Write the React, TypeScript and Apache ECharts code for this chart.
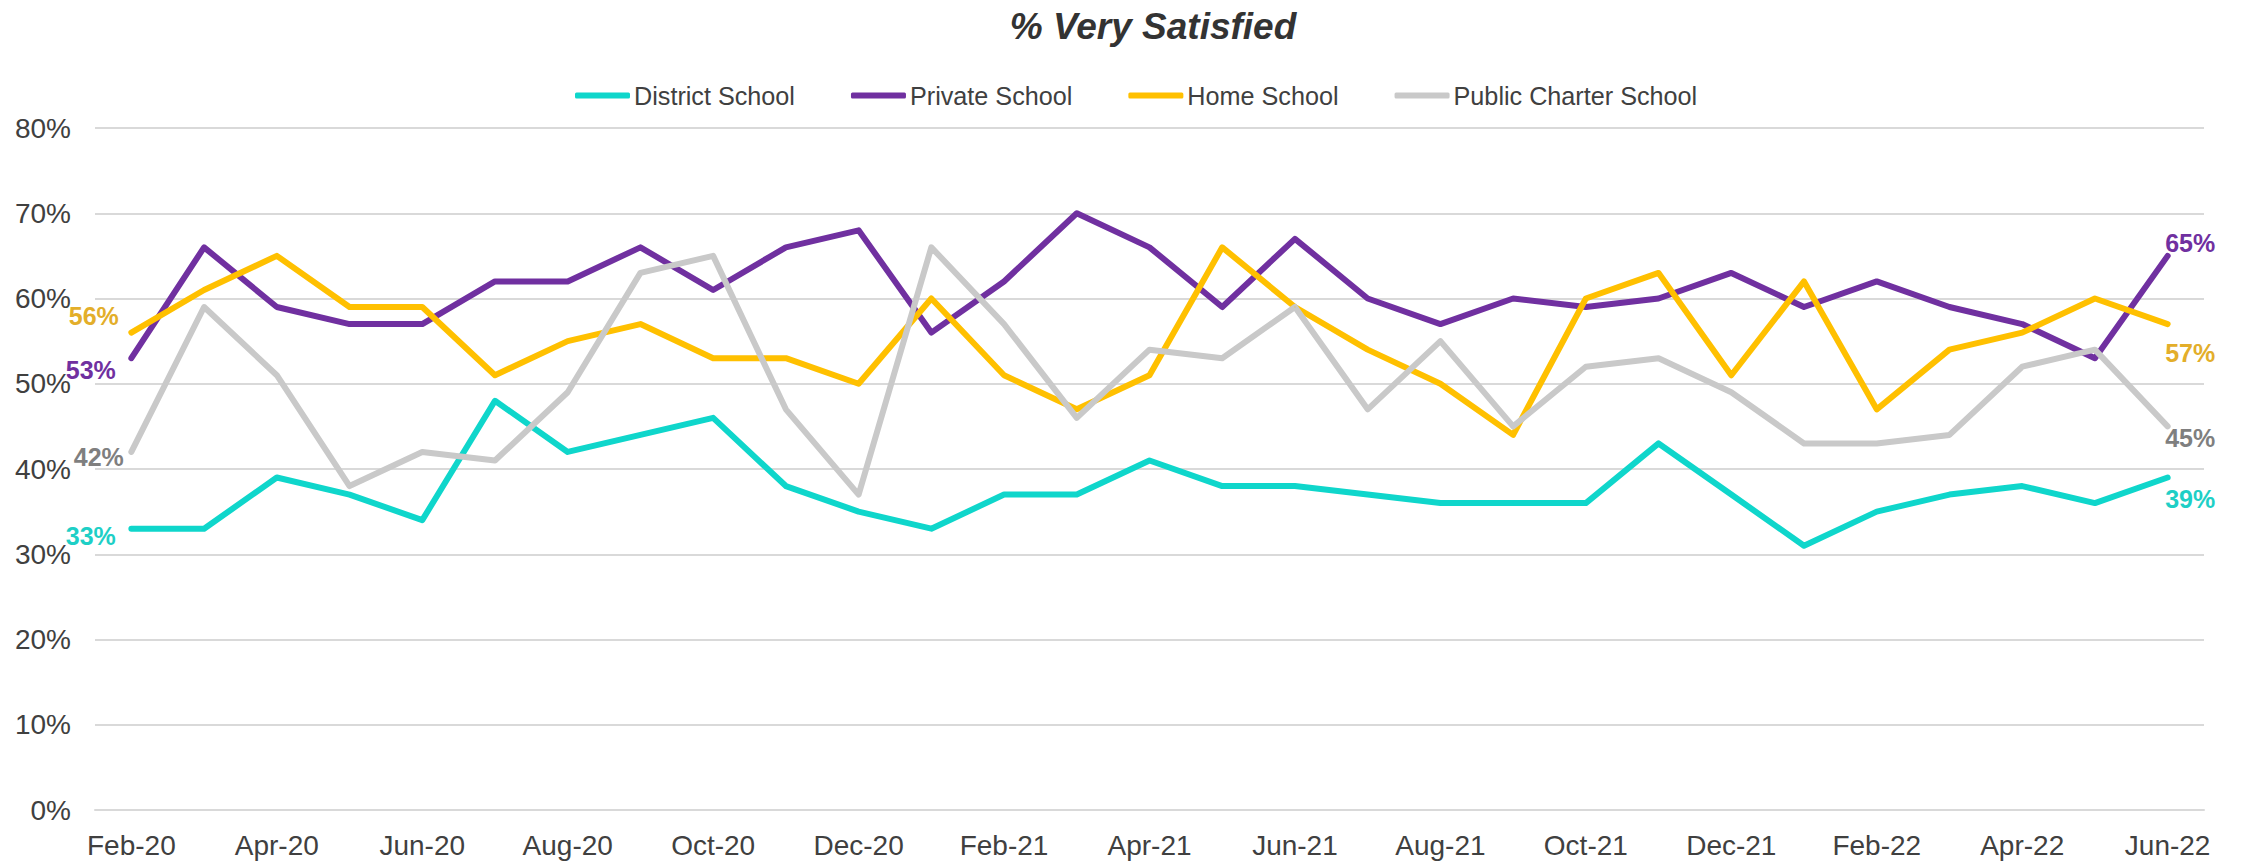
import React, { useEffect, useRef } from "react";
import * as echarts from "echarts";

const months = [
  "Feb-20", "Mar-20", "Apr-20", "May-20", "Jun-20", "Jul-20", "Aug-20", "Sep-20", "Oct-20", "Nov-20", "Dec-20",
  "Jan-21", "Feb-21", "Mar-21", "Apr-21", "May-21", "Jun-21", "Jul-21", "Aug-21", "Sep-21", "Oct-21", "Nov-21", "Dec-21",
  "Jan-22", "Feb-22", "Mar-22", "Apr-22", "May-22", "Jun-22",
];

const districtSchool = [33, 33, 39, 37, 34, 48, 42, 44, 46, 38, 35, 33, 37, 37, 41, 38, 38, 37, 36, 36, 36, 43, 37, 31, 35, 37, 38, 36, 39];
const privateSchool = [53, 66, 59, 57, 57, 62, 62, 66, 61, 66, 68, 56, 62, 70, 66, 59, 67, 60, 57, 60, 59, 60, 63, 59, 62, 59, 57, 53, 65];
const homeSchool = [56, 61, 65, 59, 59, 51, 55, 57, 53, 53, 50, 60, 51, 47, 51, 66, 59, 54, 50, 44, 60, 63, 51, 62, 47, 54, 56, 60, 57];
const charterSchool = [42, 59, 51, 38, 42, 41, 49, 63, 65, 47, 37, 66, 57, 46, 54, 53, 59, 47, 55, 45, 52, 53, 49, 43, 43, 44, 52, 54, 45];

const yTicks = [0, 10, 20, 30, 40, 50, 60, 70, 80];

const FONT = "'Liberation Sans', Arial, Helvetica, sans-serif";

type SeriesDef = {
  name: string;
  values: number[];
  color: string;
  labelColor: string;
  startOffset: [number, number];
  endOffset: [number, number];
};

const seriesDefs: SeriesDef[] = [
  { name: "District School", values: districtSchool, color: "#0FD6CB", labelColor: "#1ECFC6", startOffset: [-10, 7], endOffset: [-8, 21] },
  { name: "Private School", values: privateSchool, color: "#7030A0", labelColor: "#7030A0", startOffset: [-10, 12], endOffset: [-8, -13] },
  { name: "Home School", values: homeSchool, color: "#FFC000", labelColor: "#E3AE2A", startOffset: [-7, -17], endOffset: [-8, 29] },
  { name: "Public Charter School", values: charterSchool, color: "#C9C9C9", labelColor: "#7F7F7F", startOffset: [-2, 5], endOffset: [-8, 12] },
];

export default function App() {
  const ref = useRef<HTMLDivElement>(null);

  useEffect(() => {
    if (!ref.current) return;
    const chart = echarts.init(ref.current, null, { renderer: "svg" });

    const series = seriesDefs.map((s) => ({
      name: s.name,
      type: "line",
      showSymbol: true,
      symbol: "circle",
      symbolSize: 1,
      smooth: false,
      lineStyle: { color: s.color, width: 6, cap: "round", join: "round" },
      itemStyle: { color: s.color },
      label: { show: false },
      data: s.values.map((v, i) => {
        if (i === 0 || i === s.values.length - 1) {
          const isStart = i === 0;
          return {
            value: v,
            label: {
              show: true,
              position: isStart ? "left" : "right",
              offset: isStart ? s.startOffset : s.endOffset,
              formatter: "{c}%",
              color: s.labelColor,
              fontWeight: "bold",
              fontSize: 25,
              fontFamily: FONT,
            },
          };
        }
        return v;
      }),
    }));

    chart.setOption({
      animation: false,
      backgroundColor: "#ffffff",
      title: {
        text: "% Very Satisfied",
        left: 1148,
        top: 3,
        textAlign: "center",
        textStyle: {
          fontFamily: FONT,
          fontSize: 37,
          fontWeight: "bold",
          fontStyle: "italic",
          color: "#333333",
        },
      },
      legend: {
        top: 78,
        left: 570,
        icon: "roundRect",
        itemWidth: 55,
        itemHeight: 6,
        itemGap: 56,
        textStyle: { fontFamily: FONT, fontSize: 25.2, color: "#404040", padding: [0, 0, 0, -1] },
        data: seriesDefs.map((s) => s.name),
      },
      grid: { left: 95, right: 40, top: 128, bottom: 52, containLabel: false },
      xAxis: {
        type: "category",
        data: months,
        boundaryGap: true,
        axisLine: { show: true, lineStyle: { color: "#D9D9D9", width: 2 } },
        axisTick: { show: false },
        axisLabel: {
          interval: 1,
          fontFamily: FONT,
          fontSize: 28,
          color: "#404040",
          margin: 21,
        },
      },
      yAxis: {
        type: "value",
        min: yTicks[0],
        max: yTicks[yTicks.length - 1],
        interval: 10,
        axisLine: { show: false },
        axisTick: { show: false },
        axisLabel: {
          formatter: "{value}%",
          fontFamily: FONT,
          fontSize: 28,
          color: "#404040",
          margin: 24,
        },
        splitLine: { lineStyle: { color: "#D9D9D9", width: 2 } },
      },
      series,
    });

    return () => chart.dispose();
  }, []);

  return (
    <div
      ref={ref}
      style={{ position: "absolute", left: 0, top: 0, width: 2244, height: 862 }}
    />
  );
}
